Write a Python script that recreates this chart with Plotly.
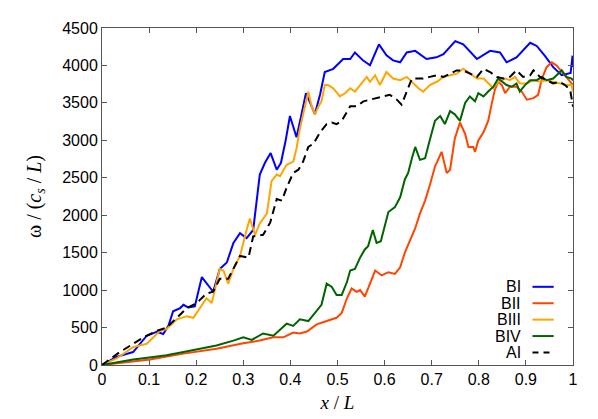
import plotly.graph_objects as go

# ---- data ----
x_BI = [0, 0.031, 0.066, 0.095, 0.116, 0.13, 0.141, 0.151, 0.166, 0.173, 0.183, 0.197, 0.212, 0.222,
        0.236, 0.25, 0.265, 0.279, 0.293, 0.307, 0.321, 0.335, 0.346, 0.358, 0.371, 0.38, 0.39, 0.399,
        0.413, 0.422, 0.433, 0.442, 0.452, 0.463, 0.473, 0.491, 0.512, 0.527, 0.537, 0.554, 0.569,
        0.588, 0.604, 0.618, 0.633, 0.647, 0.665, 0.689, 0.71, 0.725, 0.75, 0.767, 0.796, 0.824,
        0.845, 0.859, 0.88, 0.909, 0.923, 0.94, 0.958, 0.976, 0.986, 0.995, 0.999, 1.0]
y_BI = [0, 108, 173, 391, 443, 413, 522, 717, 760, 804, 769, 782, 1174, 1086,
        978, 1282, 1369, 1630, 1760, 1695, 1803, 2543, 2700, 2830, 2608, 2700, 3000, 3325,
        3042, 3300, 3630, 3500, 3350, 3612, 3912, 3955, 4086, 4086, 4173, 4068, 4003,
        4281, 4134, 4068, 4042, 4173, 4195, 4086, 4108, 4151, 4325, 4281, 4086, 4195,
        4173, 4042, 4108, 4303, 4260, 4130, 3977, 3869, 3890, 3900, 4130, 3980]

x_BII = [0, 0.102, 0.173, 0.243, 0.3, 0.335, 0.364, 0.385, 0.406, 0.42, 0.435, 0.456, 0.477, 0.498,
         0.509, 0.52, 0.53, 0.541, 0.548, 0.558, 0.569, 0.58, 0.594, 0.608, 0.622, 0.633, 0.643,
         0.654, 0.665, 0.675, 0.686, 0.696, 0.707, 0.721, 0.732, 0.739, 0.749, 0.76, 0.771, 0.778,
         0.788, 0.792, 0.799, 0.81, 0.82, 0.827, 0.834, 0.841, 0.849, 0.856, 0.866, 0.88, 0.891,
         0.902, 0.916, 0.926, 0.934, 0.944, 0.955, 0.965, 0.976, 0.986, 0.997, 1.0]
y_BII = [0, 74, 152, 217, 291, 326, 369, 369, 434, 421, 447, 543, 587, 630,
         695, 891, 1021, 978, 1000, 913, 1086, 1261, 1196, 1239, 1217, 1304, 1500,
         1673, 1826, 2021, 2195, 2400, 2651, 2847, 2565, 2608, 3021, 3238, 3086, 2912,
         2912, 2847, 2999, 3108, 3260, 3477, 3673, 3782, 3738, 3629, 3716, 3716, 3651,
         3543, 3564, 3608, 3825, 3977, 4042, 4000, 3912, 3847, 3760, 3740]

x_BIII = [0, 0.031, 0.066, 0.095, 0.123, 0.137, 0.159, 0.18, 0.194, 0.208, 0.222, 0.233, 0.25, 0.258,
          0.268, 0.279, 0.293, 0.307, 0.314, 0.325, 0.335, 0.35, 0.36, 0.371, 0.378, 0.392, 0.406,
          0.413, 0.42, 0.427, 0.438, 0.445, 0.452, 0.46, 0.466, 0.473, 0.48, 0.491, 0.505, 0.516,
          0.527, 0.537, 0.548, 0.562, 0.569, 0.58, 0.59, 0.604, 0.618, 0.633, 0.647, 0.658, 0.672,
          0.682, 0.696, 0.711, 0.725, 0.739, 0.753, 0.767, 0.781, 0.796, 0.81, 0.824, 0.831, 0.841,
          0.856, 0.866, 0.877, 0.887, 0.902, 0.916, 0.93, 0.944, 0.958, 0.972, 0.986, 0.997, 1.0]
y_BIII = [0, 87, 239, 283, 456, 478, 609, 652, 630, 760, 891, 826, 1282, 1260,
          1086, 1282, 1456, 1803, 1956, 1738, 1891, 2021, 2456, 2543, 2521, 2673, 2716,
          2891, 3150, 3347, 3650, 3456, 3347, 3456, 3521, 3738, 3738, 3695, 3586, 3629,
          3695, 3651, 3738, 3847, 3782, 3869, 3738, 3912, 3825, 3803, 3847, 3782, 3695,
          3651, 3738, 3782, 3847, 3869, 3890, 3955, 3890, 3825, 3825, 3738, 3695, 3782,
          3825, 3803, 3847, 3760, 3760, 3803, 3782, 3803, 3782, 3760, 3738, 3738, 3650]

x_BIV = [0, 0.066, 0.109, 0.137, 0.173, 0.208, 0.243, 0.279, 0.3, 0.318, 0.342, 0.364, 0.392, 0.406,
         0.42, 0.438, 0.456, 0.466, 0.477, 0.488, 0.498, 0.509, 0.52, 0.527, 0.537, 0.548, 0.558,
         0.565, 0.575, 0.583, 0.592, 0.601, 0.608, 0.622, 0.633, 0.643, 0.65, 0.658, 0.665, 0.675,
         0.686, 0.693, 0.707, 0.718, 0.728, 0.739, 0.749, 0.76, 0.771, 0.781, 0.792, 0.799, 0.81,
         0.82, 0.831, 0.841, 0.849, 0.859, 0.87, 0.88, 0.887, 0.898, 0.909, 0.923, 0.934, 0.944,
         0.958, 0.969, 0.976, 0.986, 0.997, 1.0]
y_BIV = [0, 74, 108, 130, 173, 217, 261, 326, 369, 335, 421, 391, 552, 522,
         609, 587, 717, 804, 1086, 1043, 935, 935, 1108, 1261, 1282, 1434, 1543,
         1587, 1803, 1630, 1652, 1891, 2043, 2108, 2239, 2478, 2565, 2760, 2912, 2739,
         2760, 2934, 3260, 3325, 3217, 3390, 3347, 3260, 3499, 3586, 3521, 3629, 3586,
         3651, 3716, 3825, 3782, 3738, 3716, 3760, 3651, 3738, 3803, 3803, 3847, 3803,
         3825, 3890, 3934, 3847, 3825, 3800]

x_AI = [0, 0.038, 0.066, 0.088, 0.116, 0.137, 0.159, 0.18, 0.201, 0.222, 0.236, 0.25, 0.268, 0.279,
        0.293, 0.311, 0.321, 0.342, 0.357, 0.371, 0.382, 0.392, 0.406, 0.417, 0.427, 0.438, 0.449,
        0.463, 0.477, 0.488, 0.498, 0.509, 0.527, 0.541, 0.555, 0.569, 0.583, 0.597, 0.611, 0.626,
        0.636, 0.647, 0.658, 0.668, 0.682, 0.696, 0.711, 0.725, 0.739, 0.753, 0.767, 0.781, 0.796,
        0.81, 0.824, 0.838, 0.852, 0.866, 0.88, 0.894, 0.909, 0.916, 0.93, 0.944, 0.958, 0.972,
        0.983, 0.994, 1.0]
y_AI = [0, 173, 283, 369, 456, 500, 630, 760, 826, 956, 978, 1152, 1152, 1282,
        1456, 1434, 1717, 1738, 1900, 2217, 2195, 2369, 2565, 2608, 2716, 2912, 2956,
        3108, 3217, 3238, 3217, 3260, 3456, 3456, 3521, 3543, 3564, 3586, 3608, 3543,
        3477, 3651, 3825, 3825, 3825, 3847, 3869, 3847, 3890, 3934, 3934, 3890, 3847,
        3955, 3912, 3847, 3825, 3847, 3934, 3847, 3869, 3934, 3847, 3803, 3760, 3782,
        3738, 3673, 3450]

series_names = ["BI", "BII", "BIII", "BIV", "AI"]
series_x = [x_BI, x_BII, x_BIII, x_BIV, x_AI]
series_y = [y_BI, y_BII, y_BIII, y_BIV, y_AI]
series_colors = ["#0000ff", "#ff4500", "#ffa500", "#006400", "#000000"]
series_dash = ["solid", "solid", "solid", "solid", "8px,5px"]

x_ticks = [0, 0.1, 0.2, 0.3, 0.4, 0.5, 0.6, 0.7, 0.8, 0.9, 1]
x_tick_labels = ["0", "0.1", "0.2", "0.3", "0.4", "0.5", "0.6", "0.7", "0.8", "0.9", "1"]
y_ticks = [0, 500, 1000, 1500, 2000, 2500, 3000, 3500, 4000, 4500]

fig = go.Figure()
for name, xs, ys, c, d in zip(series_names, series_x, series_y, series_colors, series_dash):
    fig.add_trace(go.Scatter(x=xs, y=ys, mode="lines", name=name,
                             line=dict(color=c, width=2, dash=d), showlegend=False))

# gnuplot-style key: text right-aligned, line sample on its right
leg_top = 0.232
leg_step = 0.0487
for i, (name, c, d) in enumerate(zip(series_names, series_colors, series_dash)):
    yy = leg_top - i * leg_step
    fig.add_annotation(x=0.893, y=yy, xref="paper", yref="paper", text=name,
                       showarrow=False, xanchor="right", yanchor="middle",
                       font=dict(family="Liberation Sans, Arial", size=16, color="#000"))
    fig.add_shape(type="line", xref="paper", yref="paper", x0=0.914, x1=0.959, y0=yy, y1=yy,
                  line=dict(color=c, width=2, dash="6px,5px" if d != "solid" else "solid"))

axis_common = dict(showgrid=False, zeroline=False, showline=True, linecolor="#555555",
                   linewidth=1, mirror="ticks", ticks="inside", ticklen=5, tickcolor="#555555",
                   tickfont=dict(family="Liberation Sans, Arial", size=16, color="#000"))

fig.update_xaxes(range=[0, 1], tickvals=x_ticks, ticktext=x_tick_labels,
                 title=dict(text="<i>x</i> / <i>L</i>", standoff=8,
                            font=dict(family="Liberation Serif, Times New Roman", size=19,
                                      color="#000")),
                 **axis_common)
fig.update_yaxes(range=[0, 4500], tickvals=y_ticks,
                 title=dict(text="ω / (<i>c<sub>s</sub></i> / <i>L</i>)", standoff=15,
                            font=dict(family="Liberation Serif, Times New Roman", size=20,
                                      color="#000")),
                 **axis_common)

# the page body adds an 8px offset, so margins are reduced by 8 on left/top
fig.update_layout(width=598, height=419, plot_bgcolor="white", paper_bgcolor="white",
                  margin=dict(l=94, r=33, t=12, b=62))

fig.write_html("out.html")
